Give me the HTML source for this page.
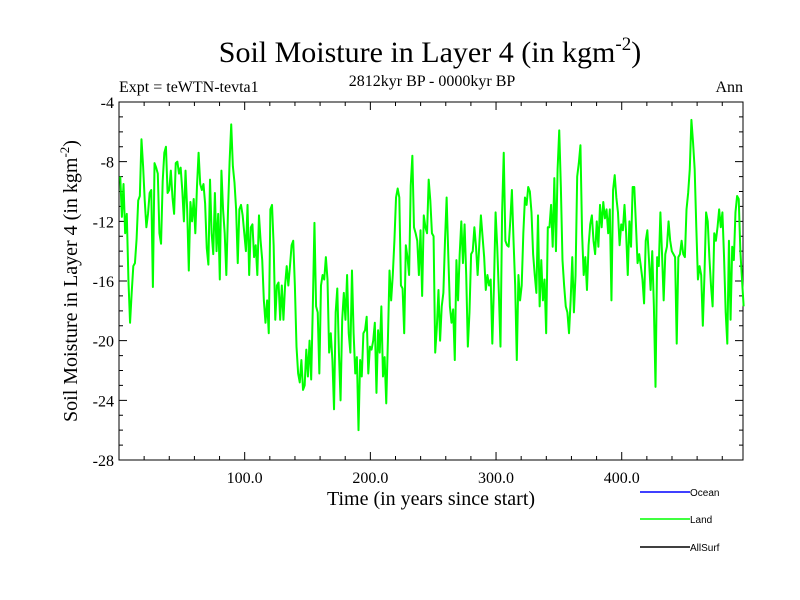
<!DOCTYPE html>
<html><head><meta charset="utf-8">
<style>
html,body{margin:0;padding:0;background:#fff;}
svg{display:block;}
text{font-family:"Liberation Serif",serif;fill:#000;}
.leg{font-family:"Liberation Sans",sans-serif;font-size:10px;}
</style></head>
<body>
<svg id="chart" width="800" height="600" viewBox="0 0 800 600">
<text x="430" y="62" font-size="30" text-anchor="middle">Soil Moisture in Layer 4 (in kgm<tspan dy="-12" font-size="19">-2</tspan><tspan dy="12">)</tspan></text>
<text x="432" y="86" font-size="16" text-anchor="middle">2812kyr BP - 0000kyr BP</text>
<text x="119" y="92" font-size="16">Expt = teWTN-tevta1</text>
<text x="743" y="92" font-size="16" text-anchor="end">Ann</text>
<text x="431" y="505" font-size="20" text-anchor="middle">Time (in years since start)</text>
<text transform="translate(77,281) rotate(-90)" font-size="20" text-anchor="middle">Soil Moisture in Layer 4 (in kgm<tspan dy="-8" font-size="13">-2</tspan><tspan dy="8">)</tspan></text>
<g id="axes"></g>
<g id="series"></g>
<g>
<g><line x1="640" y1="492" x2="690" y2="492" stroke="#0000ff" stroke-width="1.5"/><text class="leg" x="690" y="496">Ocean</text></g>
<g><line x1="640" y1="519" x2="690" y2="519" stroke="#00ff00" stroke-width="1.5"/><text class="leg" x="690" y="523">Land</text></g>
<g><line x1="640" y1="547" x2="690" y2="547" stroke="#000" stroke-width="1.5"/><text class="leg" x="690" y="551">AllSurf</text></g>
</g>
</svg>
<script>
const yTicks=[-4,-8,-12,-16,-20,-24,-28];
const xTicks=[100,200,300,400];
const xTickLabels=["100.0","200.0","300.0","400.0"];
const startYear=1, endYear=497;
const land=[
-9,-11.7,-9.5,-12.8,-11.5,-15.9,-18.8,-16.8,-15,-14.8,-13.2,-10.6,-10.3,-6.5,-8.3,-10.6,-12.4,-11.5,-10.1,-9.9,-16.4,-8.1,-8.4,-8.8,-12.8,-13.5,-9.3,-7.4,-7.0,-10.1,-9.9,-8.6,-10.4,-11.5,-8.1,-8.0,-8.8,-8.4,-9.9,-12,-8.6,-11.2,-15.3,-10.7,-12,-10.5,-12.8,-9.7,-7.4,-9.5,-9.9,-9.5,-10.8,-13.8,-14.9,-9.2,-12.8,-14.2,-10.1,-14,-11.5,-15.9,-8.6,-11.2,-12.8,-15.6,-11.4,-8,-5.5,-8.3,-9.4,-11.2,-14.8,-11.2,-10.9,-11.6,-12.8,-14,-10.9,-15.6,-12.4,-12.2,-14.4,-13.6,-15.6,-11.6,-13.3,-14.6,-17.3,-18.8,-17.3,-19.5,-11.2,
-10.9,-13.6,-18.6,-16.3,-16.1,-18.6,-16.3,-18.6,-16.3,-15,-16.3,-15,-13.6,-13.3,-16.3,-20.4,-22.2,-22.8,-21.3,-23.3,-23,-20.6,-22.4,-20,-22.6,-17.7,-12.1,-17.7,-18.1,-22.2,-16.3,-15.6,-15.9,-14.4,-15.9,-20.8,-19.5,-21.3,-24.6,-18.1,-16.5,-20.8,-24,-18.6,-16.8,-18.6,-15.6,-19.5,-20.8,-15.3,-19.5,-22.2,-21.1,-26,-21.3,-22.4,-19.5,-19.3,-18.4,-22.2,-20.4,-20.6,-20,-18.8,-23.5,-19.3,-20.8,-17.7,-22.4,-21.1,-24.2,-20,-15.3,-17.3,-15.6,-13.3,-10.4,-9.8,-10.4,-16.3,-16.5,-19.5,-13.6,-14.4,-15.6,-9.6,-7.6,-12.4,-12.8,-13.3,-15.6,-12.6,-17,-11.6,-12.4,-12.8,
-9.2,-10.6,-12.8,-13,-20.8,-19.1,-16.6,-20,-17.7,-16.8,-13.3,-10.4,-14.2,-17.7,-18.8,-17.9,-21.3,-14.6,-17.3,-14.2,-12,-14.8,-12.2,-15.6,-20.4,-18.1,-14.2,-14,-12.4,-13.7,-15.6,-13.6,-11.6,-13,-14.4,-16.6,-15.6,-16.3,-15.9,-20.2,-16.3,-11.4,-13.7,-16.8,-20.4,-11.4,-7.4,-13.3,-13.6,-13.7,-12,-9.9,-13.3,-16.3,-21.3,-15.6,-17.3,-16.3,-12.8,-10.4,-10.9,-9.7,-10,-11.4,-14.2,-15.6,-16.8,-11.6,-17.7,-14.6,-17.3,-15.9,-19.5,-12.4,-12.4,-10.9,-13.7,-9.1,-14,-8.5,-5.9,-9.7,-14.6,-16.3,-17.7,-18.1,-19.5,-17.3,-14.4,-18.1,-15.6,-9,-8.1,-6.9,-12.8,-15.6,
-14.4,-16.6,-13.6,-12.2,-11.6,-13.3,-14.2,-12,-13.7,-10.9,-12.4,-10.7,-11.8,-11.2,-12.8,-11.2,-17.3,-9.9,-8.9,-10.4,-11.4,-13.6,-12.2,-12.6,-10.9,-12.8,-15.6,-12,-13.7,-9.7,-9.7,-12.2,-14.8,-14.2,-15,-15.9,-17.5,-13.3,-12.6,-14.6,-16.6,-14,-17.7,-23.1,-14.4,-15,-11.4,-14.2,-17.3,-14.2,-13.7,-12,-13.3,-14,-14.2,-14.4,-20.2,-14.4,-14.2,-13.3,-14.2,-14.4,-11.2,-10.1,-8.5,-5.2,-6.7,-8.5,-12.4,-15.9,-15,-15.6,-19,-15.6,-11.4,-12,-14.4,-16.3,-17.7,-12.8,-13.3,-12.4,-11.2,-12.4,-11.4,-14.4,-18.1,-20.2,-13.3,-18.6,-13.7,-14.6,-11.4,-10.3,-10.5,-14,-15.9,-17.7
];
const NS="http://www.w3.org/2000/svg";
const L=119,R=743,T=102,B=460;
const xMin=0,xMax=496.5,yMin=-28,yMax=-4;
function sx(v){return L+(v-xMin)/(xMax-xMin)*(R-L);}
function sy(v){return B-(v-yMin)/(yMax-yMin)*(B-T);}
function mk(tag,attrs,parent){const e=document.createElementNS(NS,tag);for(const k in attrs)e.setAttribute(k,attrs[k]);parent.appendChild(e);return e;}
const axes=document.getElementById('axes');
const frame=mk('rect',{x:L,y:T,width:R-L,height:B-T,fill:'none',stroke:'#000','stroke-width':1},axes);


let tp='';
for(let v=yMin;v<=yMax;v+=1){const y=sy(v);const major=(v%4===0);const len=major?8:4;tp+=`M${L},${y}h${len}M${R},${y}h${-len}`;}
for(let v=20;v<xMax;v+=20){const x=sx(v);const major=(v%100===0);const len=major?8:4;tp+=`M${x},${B}v${-len}M${x},${T}v${len}`;}
const ticks=mk('path',{d:tp,stroke:'#000','stroke-width':1,fill:'none'},axes);


yTicks.forEach(v=>{const t=mk('text',{x:L-5,y:sy(v)+6,'font-size':16,'text-anchor':'end'},axes);t.textContent=String(v);

});
xTicks.forEach((v,i)=>{const t=mk('text',{x:sx(v),y:B+23,'font-size':16,'text-anchor':'middle'},axes);t.textContent=xTickLabels[i];

});
const step=(endYear-startYear)/(land.length-1);
let d='';
land.forEach((v,i)=>{const x=sx(startYear+i*step);d+=(i?'L':'M')+x.toFixed(2)+','+sy(v).toFixed(2);});
const line=mk('path',{d:d,stroke:'#00ff00','stroke-width':2,fill:'none','stroke-linejoin':'round'},document.getElementById('series'));


</script>
</body></html>
